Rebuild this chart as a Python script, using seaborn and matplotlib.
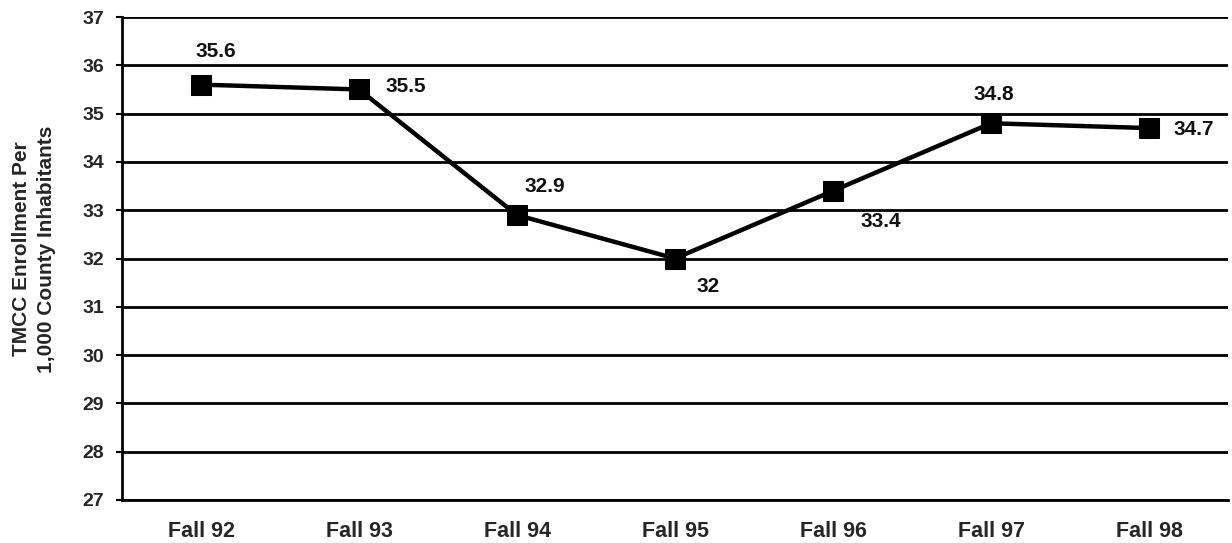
import matplotlib
matplotlib.use("Agg")
import matplotlib.pyplot as plt
import seaborn as sns
import pandas as pd
import numpy as np

categories = ["Fall 92", "Fall 93", "Fall 94", "Fall 95", "Fall 96", "Fall 97", "Fall 98"]
values = [35.6, 35.5, 32.9, 32.0, 33.4, 34.8, 34.7]
value_labels = ["35.6", "35.5", "32.9", "32", "33.4", "34.8", "34.7"]
y_ticks = [27, 28, 29, 30, 31, 32, 33, 34, 35, 36, 37]

sns.set_theme(style="white")
plt.rcParams["font.family"] = ["Liberation Sans", "DejaVu Sans"]
plt.rcParams["font.weight"] = "bold"

fig = plt.figure(figsize=(12.32, 5.43), dpi=100)
ax = fig.add_axes([122 / 1232, 1 - 500 / 543, (1228 - 122) / 1232, (500 - 17) / 543])

df = pd.DataFrame({"pos": np.arange(len(categories)), "value": values})

for t in y_ticks:
    ax.axhline(t, color="black", lw=2.0, zorder=1)

sns.lineplot(data=df, x="pos", y="value", ax=ax, color="black", lw=3.2,
             marker="s", markersize=14, markeredgecolor="black",
             markerfacecolor="black", zorder=3)

# label offsets in pixels (dx, dy), alignment
offsets = [(15, 33, "center"), (26, 3, "left"), (28, 29, "center"), (33, -28, "center"),
           (48, -31, "center"), (3, 29, "center"), (24, -1, "left")]
for i, (v, lab) in enumerate(zip(values, value_labels)):
    dx, dy, ha = offsets[i]
    ax.annotate(lab, (i, v), xytext=(dx, dy), textcoords="offset pixels",
                ha=ha, va="center", fontsize=15, fontweight="bold", color="#111111", zorder=4)

ax.set_xlim(-0.5, 6.5)
ax.set_ylim(27, 37)
ax.set_yticks(y_ticks)
ax.set_yticklabels([str(t) for t in y_ticks], fontsize=14, fontweight="bold")
ax.set_xticks(np.arange(len(categories)))
ax.set_xticklabels(categories, fontsize=15.5, fontweight="bold")
ax.set_xticks(np.arange(len(categories) + 1) - 0.5, minor=True)
ax.tick_params(axis="x", which="major", length=0, pad=15)
ax.tick_params(axis="x", which="minor", length=4.5, width=1.5, direction="out", color="black")
ax.tick_params(axis="y", length=4, width=1.5, direction="out", color="black", pad=9, left=True)
ax.set_xlabel("")
ax.set_ylabel("TMCC Enrollment Per\n1,000 County Inhabitants", fontsize=15,
              fontweight="bold", linespacing=1.4)
ax.yaxis.label.set_verticalalignment("center")
ax.yaxis.set_label_coords(-0.0795, 0.52)

for s in ["top", "right"]:
    ax.spines[s].set_visible(False)
ax.spines["left"].set_color("black")
ax.spines["left"].set_linewidth(2.0)
ax.spines["bottom"].set_color("black")
ax.spines["bottom"].set_linewidth(2.0)

fig.savefig("out.png", dpi=100, facecolor="white")
